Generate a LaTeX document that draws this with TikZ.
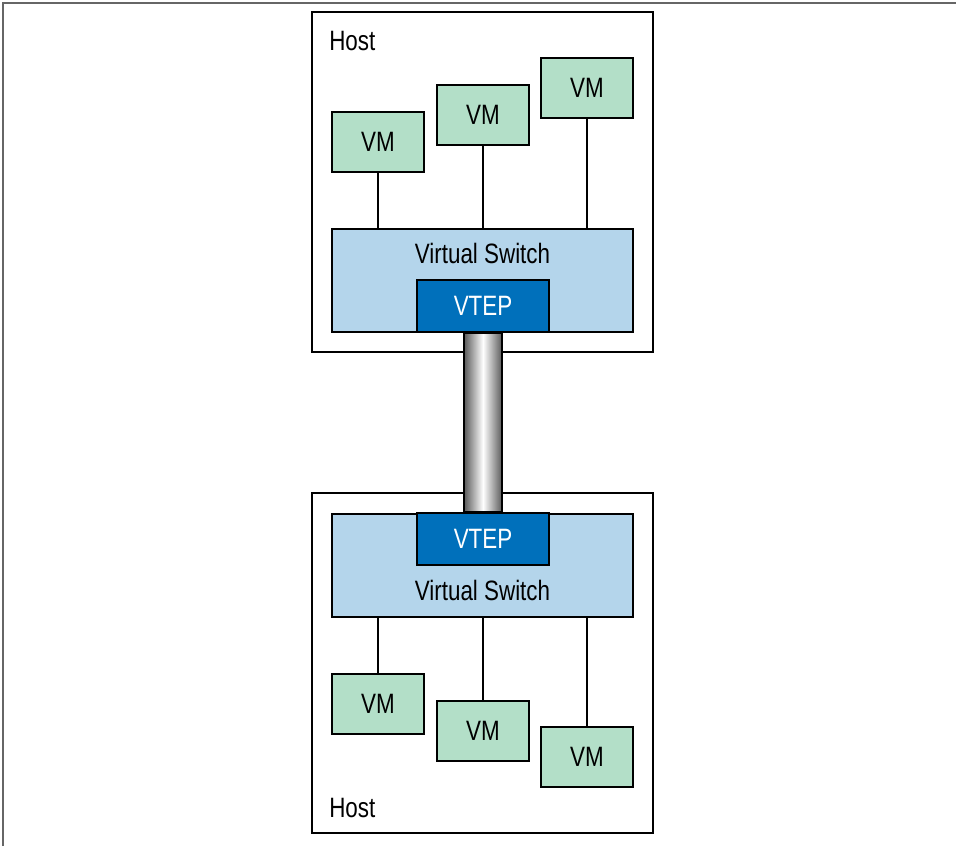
\documentclass[tikz,border=0pt]{standalone}
\usepackage{fontspec}
\setmainfont{Liberation Sans}[FakeStretch=0.8]
\usepackage{tikz}
\usetikzlibrary{positioning,calc}
\definecolor{vmGreen}{HTML}{B3DFC8}
\definecolor{switchBlue}{HTML}{B4D5EB}
\definecolor{vtepBlue}{HTML}{0070BB}
\definecolor{frameGray}{HTML}{666666}
\definecolor{pipeGray}{HTML}{5A5A5A}

\begin{document}
\begin{tikzpicture}[
  x=0.75pt,y=-0.75pt,
  every node/.style={font=\fontsize{21}{25}\selectfont},
  host/.style={draw=black,line width=1.5pt,fill=white,minimum width=255.75pt,minimum height=255pt,inner sep=0pt},
  vm/.style={draw=black,line width=1.5pt,fill=vmGreen,minimum width=69pt,minimum height=45pt,inner sep=0pt},
  switch/.style={draw=black,line width=1.5pt,fill=switchBlue,minimum width=225.75pt,minimum height=77.25pt,inner sep=0pt},
  vtep/.style={draw=black,line width=1.5pt,fill=vtepBlue,text=white,minimum width=99pt,minimum height=39pt,inner sep=0pt},
  hostlabel/.style={anchor=base west,inner sep=0pt},
  swlabel/.style={anchor=base,inner sep=0pt},
  link/.style={draw=black,line width=1.5pt},
  pipe/.style={left color=pipeGray,right color=pipeGray,middle color=white,draw=black,line width=1.5pt}
]
\useasboundingbox (0,0) rectangle (956,846);
\draw[frameGray,line width=1.5pt] (3,846) -- (3,3) -- (956,3);

% upper host
\node[host] (hostA) at (482.5,182) {};
\node[hostlabel] (hostA-txt) at (329,50) {Host};
\node[switch] (swA) at (482.5,280.5) {};
\node[swlabel] (swA-txt) at (482.5,263) {Virtual Switch};
\node[vtep] (vtepA) at (483,306) {VTEP};
\node[vm] (vmA1) at (378,142) {VM};
\node[vm] (vmA2) at (483,115) {VM};
\node[vm] (vmA3) at (587,88) {VM};
\draw[link] (vmA1) -- (vmA1 |- swA.north);
\draw[link] (vmA2) -- (vmA2 |- swA.north);
\draw[link] (vmA3) -- (vmA3 |- swA.north);

% lower host
\node[host] (hostB) at (482.5,663) {};
\node[hostlabel] (hostB-txt) at (329,817) {Host};
\node[switch] (swB) at (482.5,565) {};
\node[swlabel] (swB-txt) at (482.5,600) {Virtual Switch};
\node[vtep] (vtepB) at (483,539) {VTEP};
\node[vm] (vmB1) at (378,703.5) {VM};
\node[vm] (vmB2) at (483,730.5) {VM};
\node[vm] (vmB3) at (587,757) {VM};
\draw[link] (vmB1) -- (vmB1 |- swB.south);
\draw[link] (vmB2) -- (vmB2 |- swB.south);
\draw[link] (vmB3) -- (vmB3 |- swB.south);

% tunnel between the VTEPs
\coordinate (pipeA) at ($(vtepA.south)+(-19,0)$);
\coordinate (pipeB) at ($(vtepB.north)+(19,0)$);
\shadedraw[pipe] (pipeA) rectangle (pipeB);
\end{tikzpicture}
\end{document}
